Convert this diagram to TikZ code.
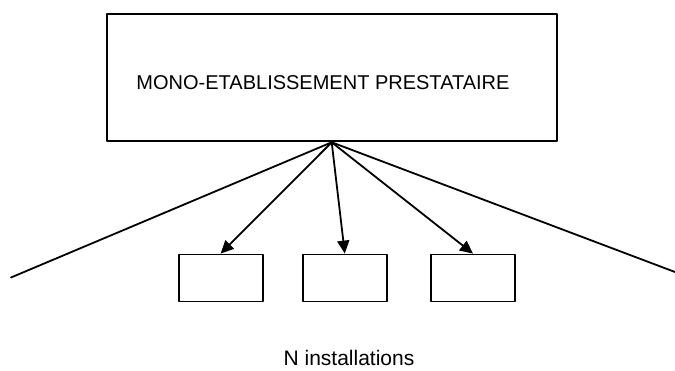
\documentclass[tikz,border=0pt]{standalone}
\usepackage{fontspec}
\setmainfont{Liberation Sans}
\usetikzlibrary{arrows.meta}

\begin{document}
\begin{tikzpicture}[line cap=round,line join=round,x=1pt,y=-1pt,
	boite/.style={draw,line width=1.8pt,inner sep=0pt},
	petite/.style={boite,minimum width=84pt,minimum height=47pt},
	fleche/.style={-{Triangle[length=13pt,width=12pt]},line width=1.8pt}]
			\useasboundingbox (0,0) rectangle (675,371);
			\node [boite,minimum width=450pt,minimum height=127pt] (etab) at (331.7,77.9) {};
			\node [anchor=base] (titre) at (323,90) {\fontsize{20}{24}\selectfont MONO-ETABLISSEMENT PRESTATAIRE};
			\node [petite] (inst1) at (220.6,278) {};
			\node [petite] (inst2) at (344.8,278) {};
			\node [petite] (inst3) at (473,278) {};
			\coordinate (gauche) at (11,277.5);
			\coordinate (droite) at (675,272);
			\draw [line width=1.8pt] (etab.south) -- (gauche);
			\draw [line width=1.8pt] (etab.south) -- (droite);
			\draw [fleche] (etab.south) -- (inst1.north);
			\draw [fleche] (etab.south) -- (inst2.north);
			\draw [fleche] (etab.south) -- (inst3.north);
			\node [anchor=base,inner sep=1pt] (nombre) at (349,366) {\fontsize{21}{24}\selectfont N installations};
			\end{tikzpicture}
\end{document}
